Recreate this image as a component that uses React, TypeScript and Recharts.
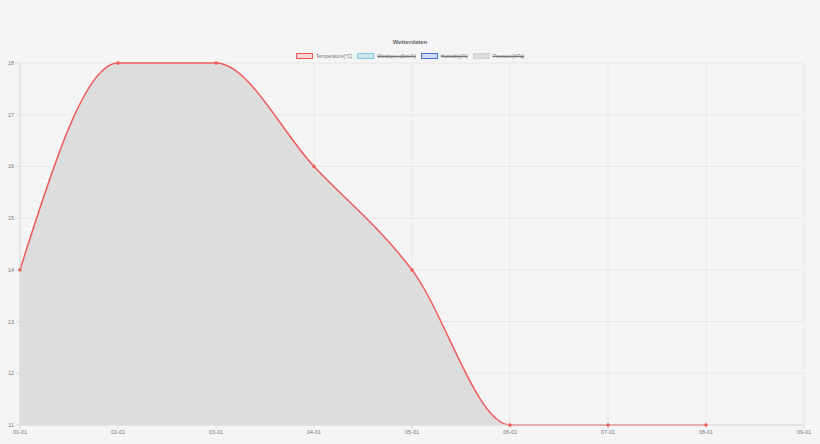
import React from 'react';
import { AreaChart, Area, XAxis, YAxis, CartesianGrid } from 'recharts';

const dates = ['01-01', '02-01', '03-01', '04-01', '05-01', '06-01', '07-01', '08-01', '09-01'];
const temperature = [14, 18, 18, 16, 14, 11, 11, 11, null];
const yTicks = [11, 12, 13, 14, 15, 16, 17, 18];

const legendItems = [
  { name: 'Temperature[°C]', fill: '#f4d6d6', stroke: '#e85a5a', hidden: false },
  { name: 'Windspeed[km/h]', fill: '#cfe7ef', stroke: '#7ec6df', hidden: true },
  { name: 'Humidity[%]', fill: '#d2daf2', stroke: '#4a6fd8', hidden: true },
  { name: 'Pressure[hPa]', fill: '#dcdcdc', stroke: '#d2d2d2', hidden: true },
];

const data = dates.map((d, i) => ({ date: d, temperature: temperature[i] }));

const font = '"Liberation Sans", Arial, sans-serif';

const TopLegend = () => (
  <div style={{ position: 'absolute', left: 0, top: 36, width: 820, textAlign: 'center', fontFamily: font }}>
    <div style={{ fontSize: 6, fontWeight: 'bold', color: '#666', height: 12, lineHeight: '12px' }}>Wetterdaten</div>
    <div style={{ display: 'flex', justifyContent: 'center', alignItems: 'center', gap: 5, marginTop: 5 }}>
      {legendItems.map((item) => (
        <div key={item.name} style={{ display: 'flex', alignItems: 'center', gap: 3 }}>
          <div
            style={{
              width: 15,
              height: 4,
              background: item.fill,
              border: `1.5px solid ${item.stroke}`,
            }}
          />
          <span
            style={{
              fontSize: 5,
              color: '#777',
              textDecoration: item.hidden ? 'line-through' : 'none',
            }}
          >
            {item.name}
          </span>
        </div>
      ))}
    </div>
  </div>
);

export default function App() {
  return (
    <div style={{ position: 'absolute', left: 0, top: 0, width: 820, height: 444, background: '#f5f5f5' }}>
      <AreaChart
        width={820}
        height={444}
        data={data}
        margin={{ top: 63, right: 16, left: 0, bottom: 0 }}
        style={{ fontFamily: font }}
      >
        <CartesianGrid stroke="#e4e4e4" strokeWidth={0.8} />
        <XAxis
          dataKey="date"
          height={19}
          tick={{ fill: '#777', fontSize: 5.5 }}
          tickSize={4}
          tickMargin={1}
          stroke="#dcdcdc"
          interval={0}
        />
        <YAxis
          width={20}
          domain={[11, 18]}
          ticks={yTicks}
          allowDecimals={false}
          tick={{ fill: '#777', fontSize: 5.5 }}
          tickSize={4}
          tickMargin={2}
          stroke="#dcdcdc"
        />
        <Area
          type="monotone"
          dataKey="temperature"
          name="Temperature[°C]"
          stroke="#ee5c5c"
          strokeWidth={1.5}
          fill="#dddddd"
          fillOpacity={1}
          dot={{ r: 1.5, fill: '#ee5c5c', stroke: '#ee5c5c', strokeWidth: 0.5 }}
          isAnimationActive={false}
        />
      </AreaChart>
      <TopLegend />
    </div>
  );
}
